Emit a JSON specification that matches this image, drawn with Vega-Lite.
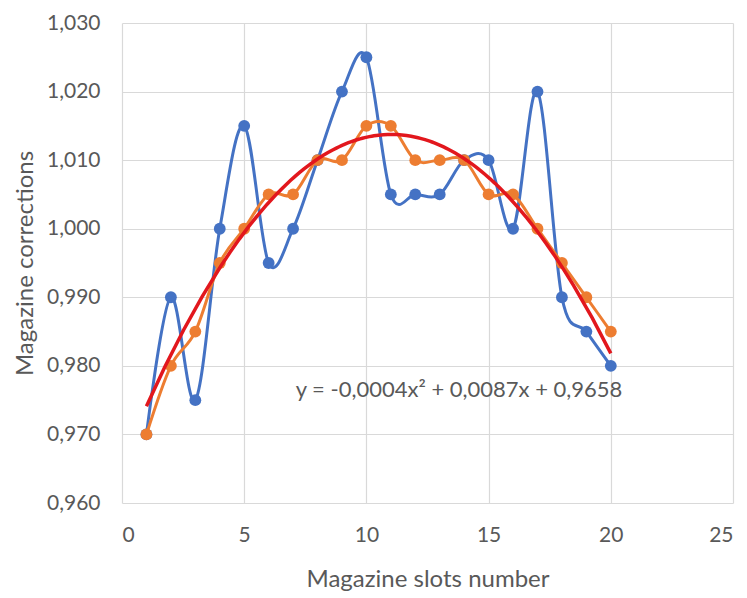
{
  "$schema": "https://vega.github.io/schema/vega-lite/v6.json",
  "autosize": {"type": "none"},
  "padding": {"left": 122, "top": 23, "right": 14, "bottom": 95},
  "width": 611,
  "height": 480,
  "background": "white",
  "config": {
    "font": "Lato",
    "view": {"stroke": null},
    "axis": {
      "labelFont": "Lato",
      "titleFont": "Lato",
      "labelColor": "#595959",
      "titleColor": "#595959",
      "labelFontSize": 21,
      "titleFontSize": 24,
      "titleFontWeight": "normal",
      "gridColor": "#d9d9d9",
      "gridWidth": 1.2,
      "domain": false,
      "ticks": false
    }
  },
  "data": {
    "values": [
      {"x": 1, "series": "Series1", "y": 0.970},
      {"x": 2, "series": "Series1", "y": 0.990},
      {"x": 3, "series": "Series1", "y": 0.975},
      {"x": 4, "series": "Series1", "y": 1.000},
      {"x": 5, "series": "Series1", "y": 1.015},
      {"x": 6, "series": "Series1", "y": 0.995},
      {"x": 7, "series": "Series1", "y": 1.000},
      {"x": 8, "series": "Series1", "y": 1.010},
      {"x": 9, "series": "Series1", "y": 1.020},
      {"x": 10, "series": "Series1", "y": 1.025},
      {"x": 11, "series": "Series1", "y": 1.005},
      {"x": 12, "series": "Series1", "y": 1.005},
      {"x": 13, "series": "Series1", "y": 1.005},
      {"x": 14, "series": "Series1", "y": 1.010},
      {"x": 15, "series": "Series1", "y": 1.010},
      {"x": 16, "series": "Series1", "y": 1.000},
      {"x": 17, "series": "Series1", "y": 1.020},
      {"x": 18, "series": "Series1", "y": 0.990},
      {"x": 19, "series": "Series1", "y": 0.985},
      {"x": 20, "series": "Series1", "y": 0.980},
      {"x": 1, "series": "Series2", "y": 0.970},
      {"x": 2, "series": "Series2", "y": 0.980},
      {"x": 3, "series": "Series2", "y": 0.985},
      {"x": 4, "series": "Series2", "y": 0.995},
      {"x": 5, "series": "Series2", "y": 1.000},
      {"x": 6, "series": "Series2", "y": 1.005},
      {"x": 7, "series": "Series2", "y": 1.005},
      {"x": 8, "series": "Series2", "y": 1.010},
      {"x": 9, "series": "Series2", "y": 1.010},
      {"x": 10, "series": "Series2", "y": 1.015},
      {"x": 11, "series": "Series2", "y": 1.015},
      {"x": 12, "series": "Series2", "y": 1.010},
      {"x": 13, "series": "Series2", "y": 1.010},
      {"x": 14, "series": "Series2", "y": 1.010},
      {"x": 15, "series": "Series2", "y": 1.005},
      {"x": 16, "series": "Series2", "y": 1.005},
      {"x": 17, "series": "Series2", "y": 1.000},
      {"x": 18, "series": "Series2", "y": 0.995},
      {"x": 19, "series": "Series2", "y": 0.990},
      {"x": 20, "series": "Series2", "y": 0.985}
    ]
  },
  "encoding": {
    "x": {
      "field": "x", "type": "quantitative",
      "scale": {"domain": [0, 25], "nice": false, "zero": false},
      "axis": {"values": [0, 5, 10, 15, 20, 25], "title": "Magazine slots number", "labelPadding": 21, "titlePadding": 22, "grid": true}
    },
    "y": {
      "field": "y", "type": "quantitative",
      "scale": {"domain": [0.96, 1.03], "nice": false, "zero": false},
      "axis": {
        "values": [0.96, 0.97, 0.98, 0.99, 1.0, 1.01, 1.02, 1.03],
        "labelExpr": "replace(format(datum.value, '.3f'), '.', ',')",
        "title": "Magazine corrections", "labelPadding": 22, "titlePadding": 9, "grid": true
      }
    }
  },
  "layer": [
    {
      "transform": [{"filter": "datum.series === 'Series1'"}],
      "mark": {"type": "line", "interpolate": "cardinal", "color": "#4472C4", "strokeWidth": 3},
      "encoding": {}
    },
    {
      "transform": [{"filter": "datum.series === 'Series1'"}],
      "mark": {"type": "point", "filled": true, "opacity": 1, "color": "#4472C4", "size": 140},
      "encoding": {}
    },
    {
      "transform": [{"filter": "datum.series === 'Series2'"}],
      "mark": {"type": "line", "interpolate": "cardinal", "color": "#ED7D31", "strokeWidth": 3},
      "encoding": {}
    },
    {
      "transform": [{"filter": "datum.series === 'Series2'"}],
      "mark": {"type": "point", "filled": true, "opacity": 1, "color": "#ED7D31", "size": 140},
      "encoding": {}
    },
    {
      "transform": [
        {"filter": "datum.series === 'Series1'"},
        {"regression": "y", "on": "x", "method": "poly", "order": 2}
      ],
      "mark": {"type": "line", "color": "#E2171D", "strokeWidth": 3.5},
      "encoding": {}
    },
    {
      "transform": [{"filter": "datum.series === 'Series1' && datum.x === 1"}],
      "mark": {"type": "text", "text": "y = -0,0004x² + 0,0087x + 0,9658", "font": "Lato", "fontSize": 22, "color": "#595959", "align": "center", "baseline": "middle"},
      "encoding": {
        "x": {"datum": 13.79},
        "y": {"datum": 0.9765}
      }
    }
  ]
}
